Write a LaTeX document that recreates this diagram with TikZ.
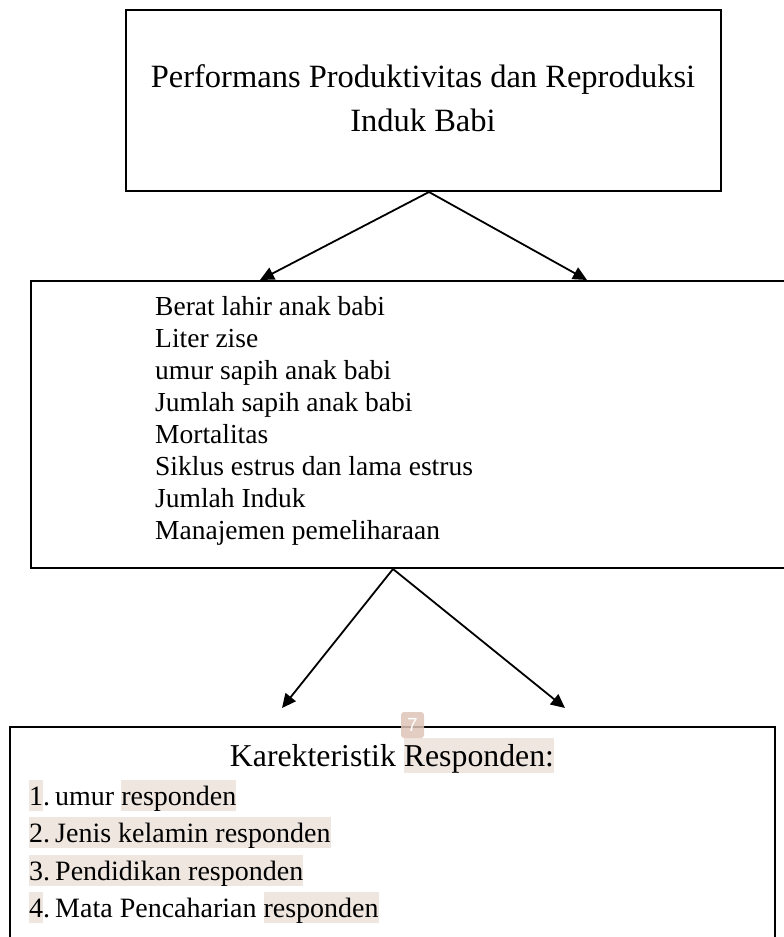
\documentclass[tikz,border=0pt]{standalone}
\usepackage{fontspec}
\setmainfont{Liberation Serif}
\setsansfont{Liberation Sans}
\usetikzlibrary{arrows.meta}
\definecolor{hl}{RGB}{239,230,224}
\definecolor{badgec}{RGB}{222,195,182}
\newcommand{\hlt}[1]{{\setlength{\fboxsep}{0pt}\colorbox{hl}{\rule[-0.22em]{0pt}{1.11em}#1}}}
\begin{document}
\begin{tikzpicture}[x=1pt,y=-1pt,
  box/.style={draw=black,line width=2pt,inner sep=0pt,anchor=north west},
  conn/.style={line width=1.8pt,-{Triangle[length=14pt,width=13pt]}},
  txt/.style={inner sep=0pt,anchor=base west}]
\useasboundingbox (0,0) rectangle (784,937);
\clip (0,0) rectangle (784,937);

% boxes
\node[box, minimum width=595pt, minimum height=181pt] (top) at (125,9) {};
\node[box, minimum width=790pt, minimum height=287pt] (mid) at (30,280) {};
\node[box, minimum width=765pt, minimum height=260pt] (bot) at (9,726) {};

% connector points
\path (top.south) ++(5.5,0) coordinate (ta);
\path (mid.north west) ++(230,0) coordinate (ma);
\path (mid.north west) ++(557,0) coordinate (mb);
\path (mid.south west) ++(363,0) coordinate (mc);
\coordinate (ba) at (282,708);
\coordinate (bb) at (565,708);

\draw[conn] (ta) -- (ma);
\draw[conn] (ta) -- (mb);
\draw[conn] (mc) -- (ba);
\draw[conn] (mc) -- (bb);

% top text
\node[txt, anchor=base, font=\fontsize{32.5}{39}\selectfont] (t1) at (423,87) {Performans Produktivitas dan Reproduksi};
\node[txt, anchor=base, font=\fontsize{32.5}{39}\selectfont] (t2) at (423,131) {Induk Babi};

% middle text
\foreach \s [count=\i] in {Berat lahir anak babi, Liter zise, umur sapih anak babi, Jumlah sapih anak babi, Mortalitas, Siklus estrus dan lama estrus, Jumlah Induk, Manajemen pemeliharaan}
  \node[txt, font=\fontsize{27.5}{33}\selectfont] (m\i) at (155,{315+32*(\i-1)}) {\s};

% bottom text
\node[txt, anchor=base, font=\fontsize{31.8}{38}\selectfont] (k0) at (392,766) {Karekteristik \hlt{Responden:}};
\node[txt, font=\fontsize{28}{33}\selectfont] (k1) at (29,805) {\hlt{1}.\hspace{0.18em}umur \hlt{responden}};
\node[txt, font=\fontsize{28}{33}\selectfont] (k2) at (29,842) {\hlt{2.\hspace{0.18em}Jenis kelamin responden}};
\node[txt, font=\fontsize{28}{33}\selectfont] (k3) at (29,880) {\hlt{3.\hspace{0.18em}Pendidikan responden}};
\node[txt, font=\fontsize{28}{33}\selectfont] (k4) at (29,917) {\hlt{4}.\hspace{0.18em}Mata Pencaharian \hlt{responden}};

% badge
\node[fill=badgec, fill opacity=0.85, text opacity=1, rounded corners=3pt, minimum width=23pt, minimum height=26pt, inner sep=0pt, text=white, font=\sffamily\fontsize{19}{19}\selectfont] (badge) at (412.5,725) {7};
\end{tikzpicture}
\end{document}
